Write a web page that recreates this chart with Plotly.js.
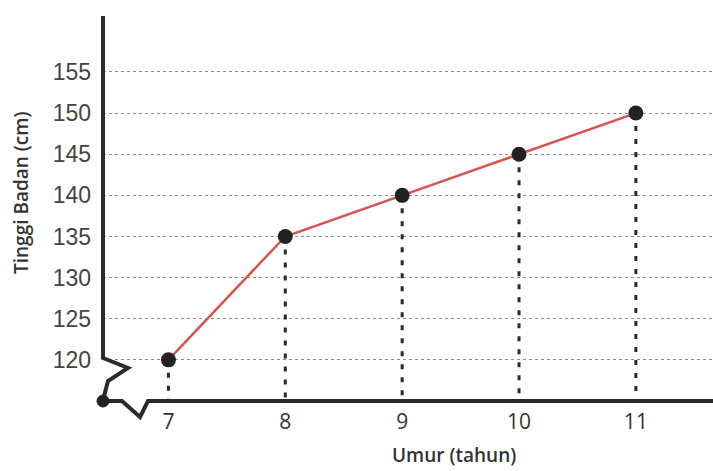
<!DOCTYPE html>
<html>
<head>
<meta charset="utf-8">
<script src="https://cdn.plot.ly/plotly-3.0.1.min.js"></script>
<style>html,body{margin:0;padding:0;background:#fff;}#chart{width:713px;height:471px;}</style>
</head>
<body>
<div id="chart"></div>
<script>
const ages = [7, 8, 9, 10, 11];
const heights = [120, 135, 140, 145, 150];
const yTicks = [120, 125, 130, 135, 140, 145, 150, 155];
const xTicks = [7, 8, 9, 10, 11];
const yTitle = 'Tinggi Badan (cm)';
const xTitle = 'Umur (tahun)';

const yMin = 115, yMax = 161.8;

const traces = [];
// vertical dashed drop lines
ages.forEach((a, i) => {
  traces.push({
    x: [a, a], y: [heights[i], yMin],
    mode: 'lines', type: 'scatter', hoverinfo: 'skip', showlegend: false,
    line: {color: '#2a2a2a', width: 3, dash: '5px,8px'}
  });
});
traces.push({
  x: ages, y: heights, mode: 'lines+markers', type: 'scatter', showlegend: false,
  line: {color: '#d9534f', width: 2.5},
  marker: {color: '#222', size: 15}
});

const layout = {
  width: 713, height: 471,
  margin: {l: 103, r: 0, t: 16, b: 70},
  paper_bgcolor: '#fff', plot_bgcolor: '#fff',
  showlegend: false,
  xaxis: {
    range: [6.44, 11.66], tickvals: xTicks, ticktext: xTicks.map(String),
    showgrid: false, zeroline: false, showline: false, ticks: '',
    ticklabelstandoff: 6,
    tickfont: {family: 'Open Sans', size: 21, color: '#333'}
  },
  yaxis: {
    range: [yMin, yMax], tickvals: yTicks, ticktext: yTicks.map(String),
    showgrid: true, gridcolor: '#8c8c8c', gridwidth: 1, griddash: '3px,3px',
    zeroline: false, showline: false, ticks: '',
    ticklabelstandoff: 11,
    tickfont: {family: 'Liberation Sans, Arial', size: 23, color: '#444'}
  },
  annotations: [
    {text: yTitle, xref: 'paper', yref: 'paper', x: (21 - 103) / 610, y: (401 - 193) / 385,
     textangle: -90, showarrow: false, xanchor: 'center', yanchor: 'middle',
     font: {family: 'Open Sans', size: 19, color: '#333', weight: 600}},
    {text: xTitle, xref: 'paper', yref: 'paper', x: (454 - 103) / 610, y: (401 - 455) / 385,
     showarrow: false, xanchor: 'center', yanchor: 'middle',
     font: {family: 'Open Sans', size: 19, color: '#333', weight: 600}}
  ],
  shapes: [
    {type: 'path', xref: 'paper', yref: 'paper',
     path: 'M0,1 L0,0.1117 L0.041,0.0857 L0.0082,0.0519 L0,0.0026',
     line: {color: '#2a2a2a', width: 4}},
    {type: 'path', xref: 'paper', yref: 'paper',
     path: 'M0,0 L0.0311,0 L0.0607,-0.0416 L0.0738,0 L1,0',
     line: {color: '#2a2a2a', width: 4}},
    {type: 'circle', xref: 'paper', yref: 'paper',
     x0: -6 / 610, x1: 6 / 610, y0: -6 / 385, y1: 6 / 385,
     fillcolor: '#222', line: {color: '#222', width: 1}}
  ]
};

Plotly.newPlot('chart', traces, layout, {staticPlot: true, displayModeBar: false});
</script>
</body>
</html>
